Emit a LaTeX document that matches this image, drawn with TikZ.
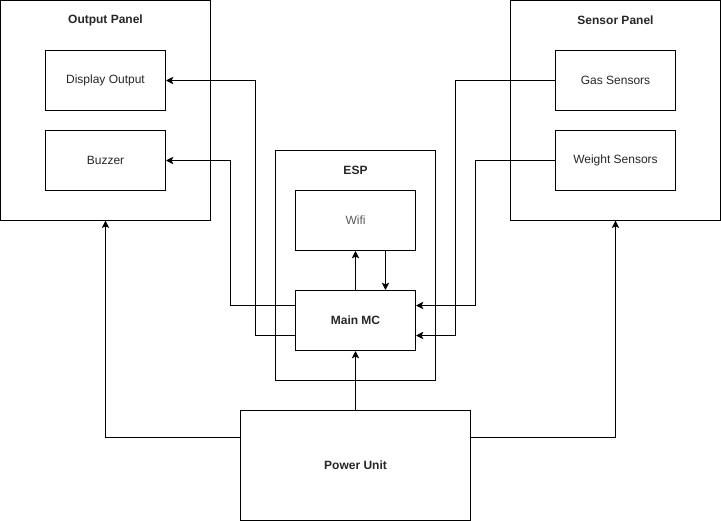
\documentclass[tikz,border=0pt]{standalone}
\usepackage{fontspec}
\setmainfont{Liberation Sans}
\usetikzlibrary{arrows.meta}
\begin{document}
\begin{tikzpicture}[x=0.75pt,y=-0.75pt,
  every node/.style={font=\fontsize{9pt}{11pt}\selectfont, text=black!85},
  box/.style={draw=black, line width=0.75pt, minimum width=90pt, minimum height=45pt, inner sep=0pt},
  panel/.style={draw=black, line width=0.75pt, inner sep=0pt},
  ttl/.style={font=\fontsize{9pt}{11pt}\selectfont\bfseries},
  arr/.style={line width=0.75pt, -{Stealth[length=5.5pt,width=5.5pt,inset=1.3pt]}},
  ln/.style={line width=0.75pt}]
\useasboundingbox (0,0) rectangle (721,521);
% panels
\node[panel, minimum width=157pt, minimum height=164.5pt] (op) at (105.5,110.5) {};
\node[ttl] (opt) at (105.5,20.5) {Output Panel};
\node[panel, minimum width=157pt, minimum height=164.5pt] (sp) at (615.5,110.5) {};
\node[ttl] (spt) at (615.5,20.5) {Sensor Panel};
\node[panel, minimum width=120pt, minimum height=172.5pt] (esp) at (355.5,265.5) {};
\node[ttl] (espt) at (355.5,170.5) {ESP};
% inner boxes
\node[box] (dis) at (105.5,80.5) {Display Output};
\node[box] (buz) at (105.5,160.5) {Buzzer};
\node[box] (gas) at (615.5,80.5) {Gas Sensors};
\node[box] (wt) at (615.5,160.5) {Weight Sensors};
\node[box, text=black!65] (wifi) at (355.5,220.5) {Wifi};
\node[box, font=\fontsize{9pt}{11pt}\selectfont\bfseries] (mc) at (355.5,320.5) {Main MC};
\node[panel, minimum width=172.5pt, minimum height=82.5pt, font=\fontsize{9pt}{11pt}\selectfont\bfseries] (pu) at (355.5,465.5) {Power Unit};
% connectors
\draw[arr] ([yshift=-11.25pt]mc.west) -- ++(-40,0) |- (dis.east);
\draw[arr] ([yshift=11.25pt]mc.west) -- ++(-65,0) |- (buz.east);
\draw[arr] (gas.west) -- ++(-100,0) |- ([yshift=-11.25pt]mc.east);
\draw[arr] (wt.west) -- ++(-80,0) |- ([yshift=11.25pt]mc.east);
\draw[arr] (mc.north) -- (wifi.south);
\draw[arr] ([xshift=22.5pt]wifi.south) -- ([xshift=22.5pt]mc.north);
\draw[arr] (pu.north) -- (mc.south);
\draw[arr] ([yshift=21pt]pu.west) -| (op.south);
\draw[arr] ([yshift=21pt]pu.east) -| (sp.south);
\end{tikzpicture}
\end{document}
